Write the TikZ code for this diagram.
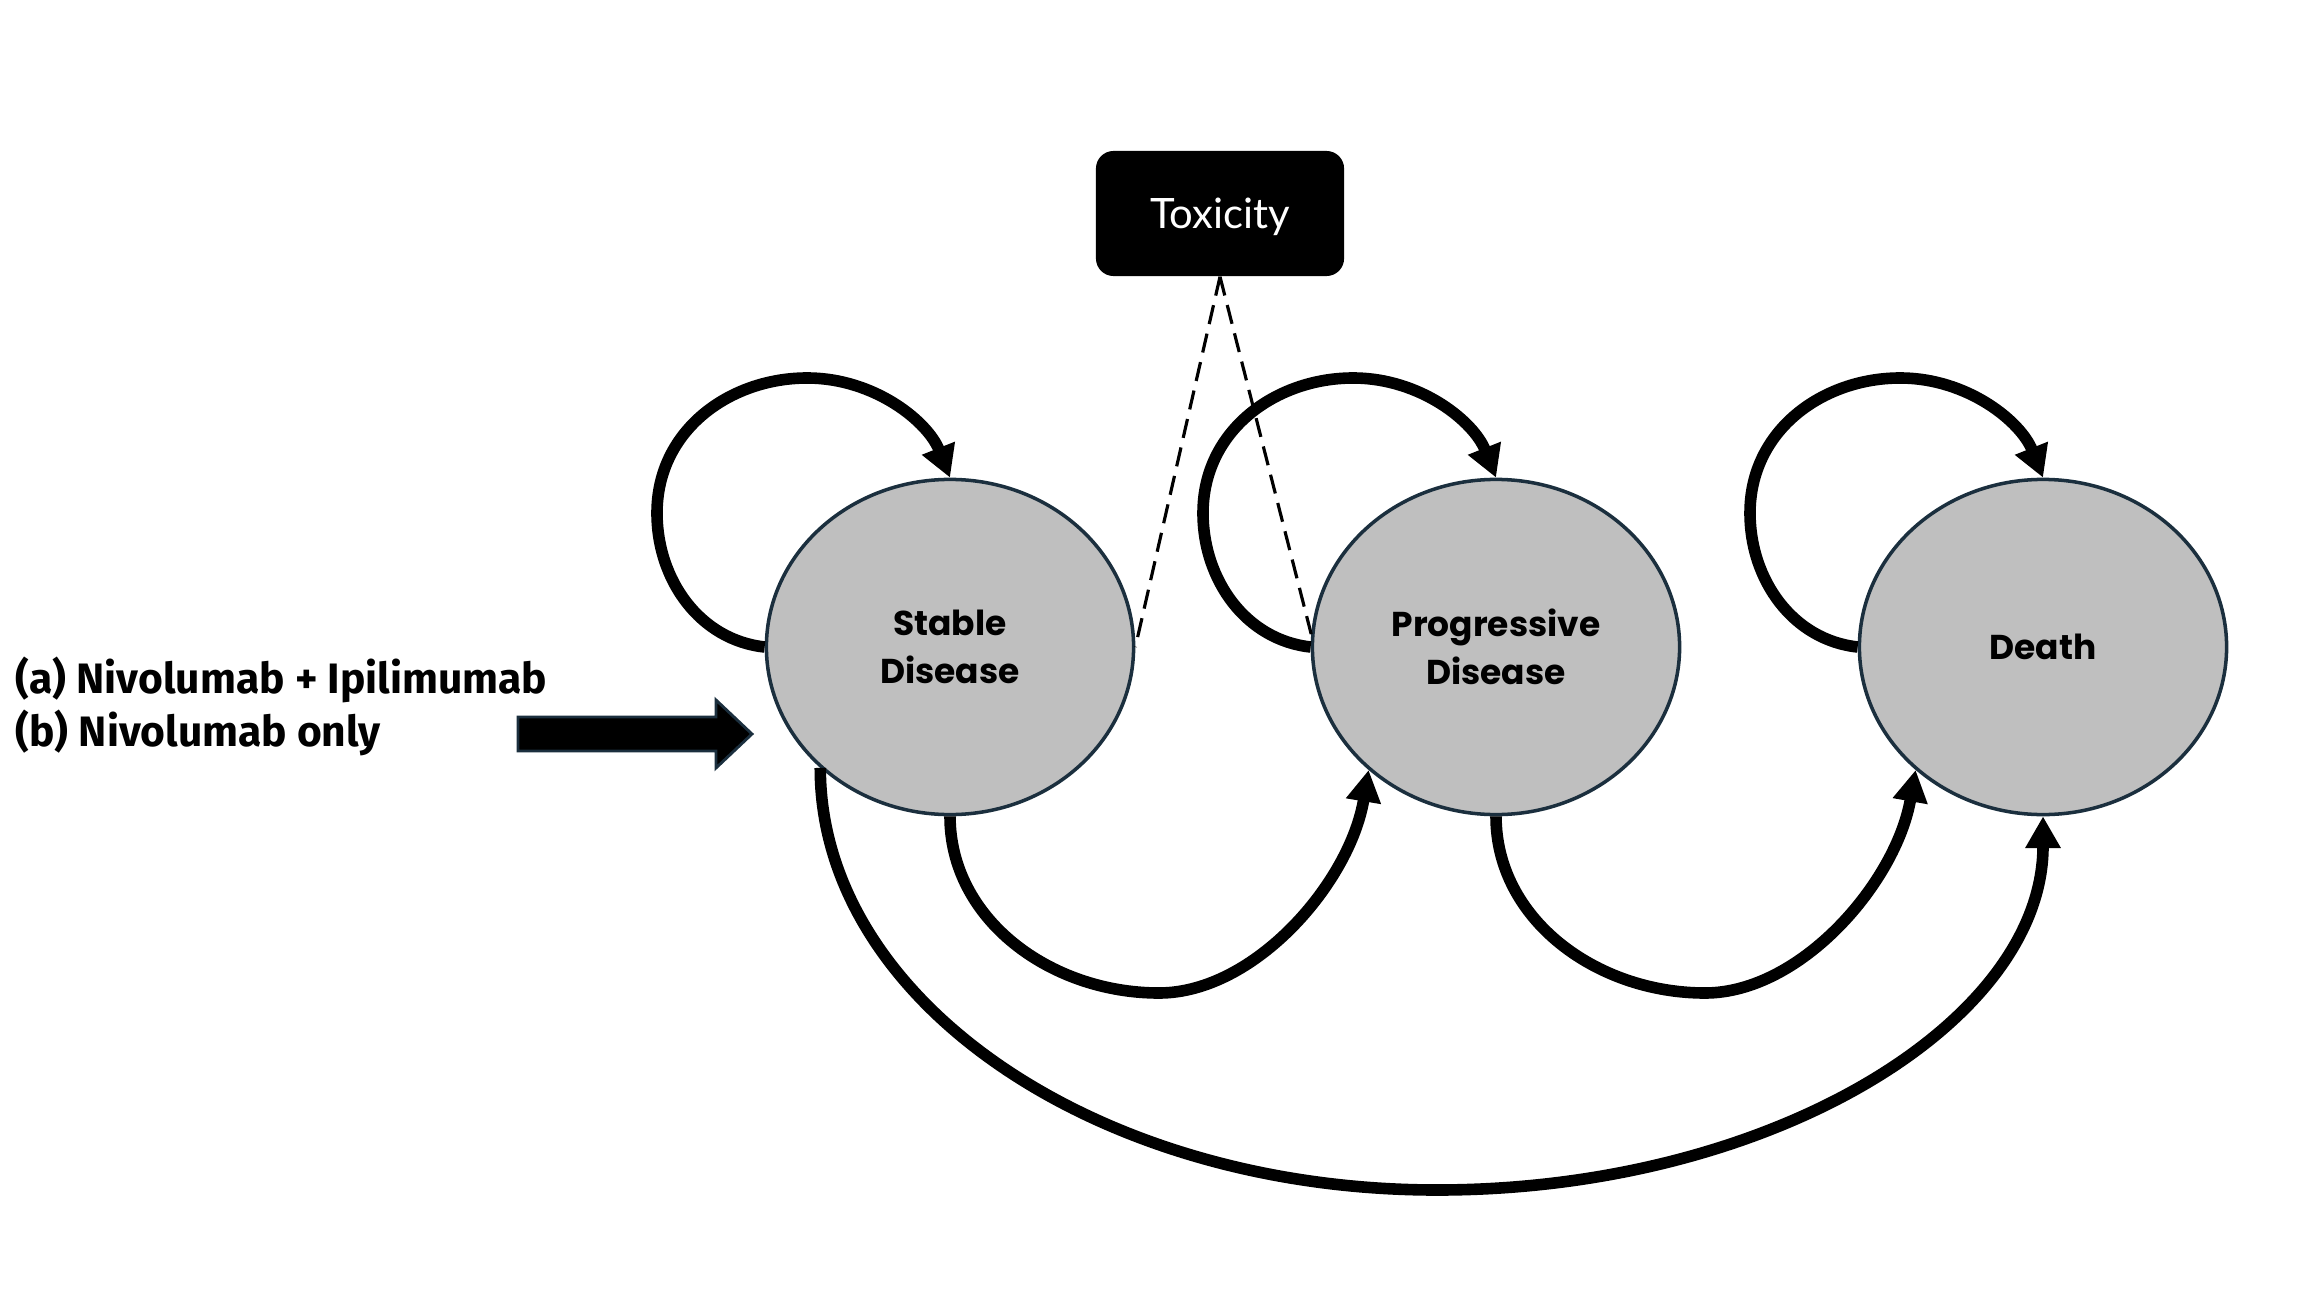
\documentclass[tikz,border=0pt]{standalone}
\usepackage{fontspec}
\setmainfont{Poppins}
\newfontfamily\toxfont{Lato}
\newfontfamily\armfont{Fira Sans}
\usetikzlibrary{arrows.meta,calc,shapes.geometric}
\definecolor{nodegray}{HTML}{BFBFBF}
\definecolor{navy}{HTML}{1B2F3E}
\begin{document}
\begin{tikzpicture}[x=0.01cm,y=-0.01cm,
  state/.style={ellipse, draw=navy, line width=1pt, fill=nodegray,
    minimum width=3.67cm, minimum height=3.35cm, inner sep=0pt, align=center,
    font=\fontsize{9.8}{13.5}\selectfont\bfseries},
  trans/.style={line width=3.3pt, -{Triangle[length=9pt,width=9.5pt]}},
  dashlink/.style={line width=0.9pt, dash pattern=on 5.5pt off 2.8pt},
  toxbox/.style={fill=black, rounded corners=5pt, minimum width=2.48cm,
    minimum height=1.25cm, inner sep=0pt, text=white, text depth=0pt,
    font=\toxfont\fontsize{11.9}{14}\selectfont},
  armlabel/.style={anchor=north west, inner sep=0pt, align=left,
    font=\armfont\fontsize{12.1}{15}\selectfont\bfseries},
  blockarrow/.style={fill=black, draw=navy, line width=0.8pt}
]
\useasboundingbox (0,0) rectangle (2300,1294);

% states
\node[state] (S) at (950,647) {Stable\\Disease};
\node[state] (P) at (1496,647) {Progressive\\Disease};
\node[state] (D) at (2043,647) {Death};

% toxicity
\node[toxbox] (T) at (1220,213.5) {Toxicity};

% treatment arms
\node[armlabel] (L) at (15,656) {(a) Nivolumab + Ipilimumab\\(b) Nivolumab only};
\draw[blockarrow] (518,717) -- (716,717) -- (716,700) -- (752,734) -- (716,768) -- (716,751) -- (518,751) -- cycle;

% self loops
\foreach \n in {S,P,D}{
  \draw[trans] (\n.west) .. controls ($(\n)+(-250,-7)$) and ($(\n)+(-293,-67)$) ..
    ($(\n)+(-293,-134)$) .. controls ($(\n)+(-293,-217)$) and ($(\n)+(-220,-269)$) ..
    ($(\n)+(-143,-269)$) .. controls ($(\n)+(-75,-269)$) and ($(\n)+(-22,-225)$) ..
    (\n.north);
}

% forward transitions
\foreach \a/\b in {S/P,P/D}{
  \draw[trans] (\a.south) .. controls ($(\a)+(0,272)$) and ($(\a)+(100,346)$) ..
    ($(\a)+(209,346)$) .. controls ($(\a)+(305,346)$) and ($(\a)+(400,235)$) .. (\b.224);
}
\draw[trans] (S.223) .. controls ($(S)+(-130,353)$) and ($(S)+(146,543)$) ..
  ($(S)+(487,543)$) .. controls ($(S)+(821,543)$) and ($(D)+(0,375)$) .. (D.south);

% toxicity links
\draw[dashlink] (T.south) -- (S.east);
\draw[dashlink] (T.south) -- (P.176);
\end{tikzpicture}
\end{document}
